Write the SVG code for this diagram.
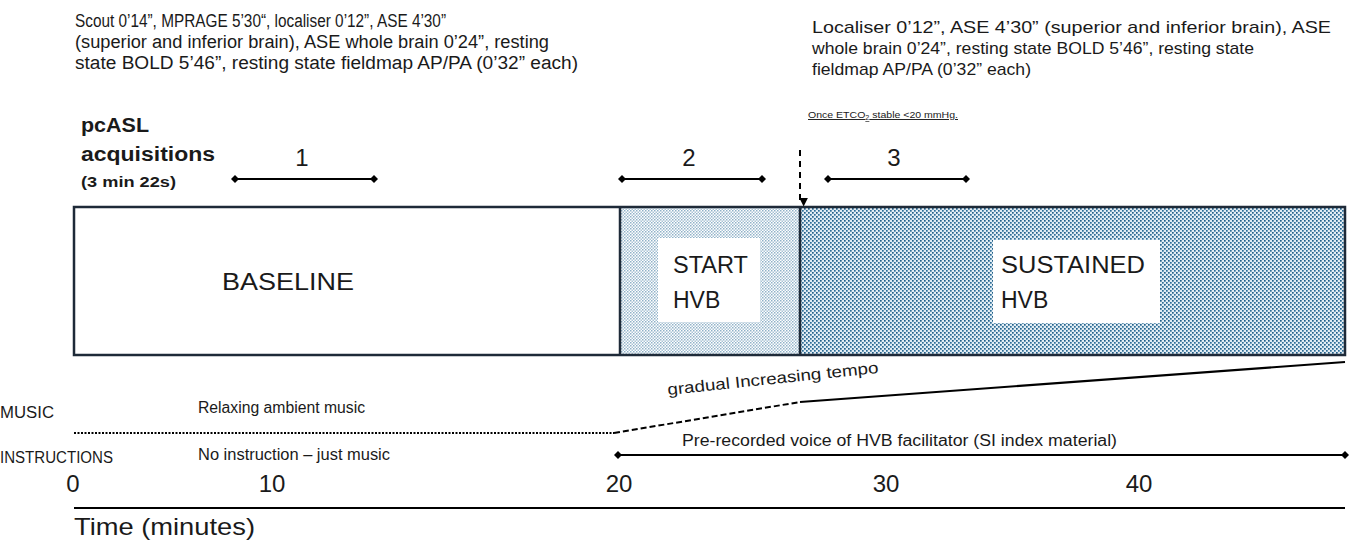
<svg xmlns="http://www.w3.org/2000/svg" width="1349" height="544" viewBox="0 0 1349 544">
  <defs>
    <pattern id="dotsLight" width="3" height="3" patternUnits="userSpaceOnUse">
      <rect width="3" height="3" fill="#ffffff"/>
      <rect x="0" y="0" width="1.5" height="1.5" fill="#8fb1c8"/>
      <rect x="1.5" y="1.5" width="1.5" height="1.5" fill="#a9c3d5"/>
    </pattern>
    <pattern id="dotsDense" width="4" height="4" patternUnits="userSpaceOnUse">
      <rect width="4" height="4" fill="#e2edf4"/>
      <rect x="0" y="0" width="1.7" height="1.7" fill="#22608a"/>
      <rect x="2" y="2" width="1.7" height="1.7" fill="#2e6e97"/>
    </pattern>
    <marker id="diamond" viewBox="0 0 10 10" refX="5" refY="5" markerWidth="8" markerHeight="8" markerUnits="userSpaceOnUse" orient="auto">
      <path d="M0,5 L5,0 L10,5 L5,10 Z" fill="#000"/>
    </marker>
    <marker id="arrowDown" viewBox="0 0 10 10" refX="5" refY="9" markerWidth="9" markerHeight="9" markerUnits="userSpaceOnUse" orient="auto-start-reverse">
      <path d="M0,0 L10,5 L0,10 Z" fill="#000"/>
    </marker>
  </defs>
  <style>
    text { font-family: "Liberation Sans", Arial, sans-serif; fill: #1a1a1a; }
    .note { font-size: 17px; }
    .noteL { font-size: 18px; }
    .big { font-size: 23px; }
    .num { font-size: 24px; }
    .lbl { font-size: 16px; }
    .range { stroke: #000; stroke-width: 2; marker-start: url(#diamond); marker-end: url(#diamond); }
    .frame { stroke: #1e2a38; stroke-width: 2.5; }
  </style>

  <rect width="1349" height="544" fill="#ffffff"/>

  <!-- sequence descriptions -->
  <g id="notes-baseline">
    <text class="noteL" x="75" y="27" textLength="371" lengthAdjust="spacingAndGlyphs">Scout 0’14”, MPRAGE 5’30“, localiser 0’12”, ASE 4’30”</text>
    <text class="noteL" x="75" y="48" textLength="474" lengthAdjust="spacingAndGlyphs">(superior and inferior brain), ASE whole brain 0’24”, resting</text>
    <text class="noteL" x="75" y="69" textLength="503" lengthAdjust="spacingAndGlyphs">state BOLD 5’46”, resting state fieldmap AP/PA  (0’32” each)</text>
  </g>
  <g id="notes-sustained">
    <text class="note" x="812" y="33" textLength="519" lengthAdjust="spacingAndGlyphs">Localiser 0’12”, ASE 4’30” (superior and inferior brain), ASE</text>
    <text class="note" x="812" y="54" textLength="442" lengthAdjust="spacingAndGlyphs">whole brain 0’24”, resting state BOLD 5’46”, resting state</text>
    <text class="note" x="812" y="75" textLength="219" lengthAdjust="spacingAndGlyphs">fieldmap AP/PA (0’32” each)</text>
  </g>

  <!-- pcASL acquisition windows -->
  <g id="pcasl-label">
    <text x="81" y="132" font-size="20" font-weight="bold" textLength="68" lengthAdjust="spacingAndGlyphs">pcASL</text>
    <text x="81" y="161" font-size="20" font-weight="bold" textLength="134" lengthAdjust="spacingAndGlyphs">acquisitions</text>
    <text x="81" y="187" font-size="14" font-weight="bold" textLength="95" lengthAdjust="spacingAndGlyphs">(3 min 22s)</text>
  </g>
  <g id="acq-1">
    <text class="num" x="302" y="166" text-anchor="middle">1</text>
  </g>
  <g id="acq-2">
    <text class="num" x="689" y="166" text-anchor="middle">2</text>
  </g>
  <g id="acq-3">
    <text class="num" x="894" y="166" text-anchor="middle">3</text>
  </g>
  <g id="etco2-note">
    <text x="808" y="118" font-size="9.5" text-decoration="underline" textLength="150" lengthAdjust="spacingAndGlyphs">Once ETCO<tspan font-size="6.5" dy="2">2</tspan><tspan dy="-2"> stable &lt;20 mmHg.</tspan></text>
  </g>

  <!-- phase blocks -->
  <g id="baseline">
    <rect x="74" y="207" width="546" height="148" fill="#ffffff"/>
    <text class="big" x="222" y="290" textLength="132" lengthAdjust="spacingAndGlyphs">BASELINE</text>
  </g>
  <g id="start-hvb">
    <rect x="620" y="207" width="180" height="148" fill="url(#dotsLight)"/>
    <rect x="658" y="238" width="102" height="84" fill="#ffffff"/>
    <text class="big" x="673" y="273" textLength="75" lengthAdjust="spacingAndGlyphs">START</text>
    <text class="big" x="673" y="308">HVB</text>
  </g>
  <g id="sustained-hvb">
    <rect x="800" y="207" width="545" height="148" fill="url(#dotsDense)"/>
    <rect x="993" y="240" width="167" height="83" fill="#ffffff"/>
    <text class="big" x="1001" y="273" textLength="144" lengthAdjust="spacingAndGlyphs">SUSTAINED</text>
    <text class="big" x="1001" y="308">HVB</text>
  </g>
  <g id="block-frame" fill="none">
    <rect class="frame" x="74" y="207" width="1271" height="148"/>
    <line class="frame" x1="620" y1="207" x2="620" y2="355"/>
    <line class="frame" x1="800" y1="207" x2="800" y2="355"/>
  </g>

  <!-- music and instruction tracks -->
  <g id="track-labels">
    <text class="lbl" x="0" y="418" textLength="54" lengthAdjust="spacingAndGlyphs">MUSIC</text>
    <text class="lbl" x="0" y="463" textLength="113" lengthAdjust="spacingAndGlyphs">INSTRUCTIONS</text>
    <text class="lbl" x="198" y="413" textLength="167" lengthAdjust="spacingAndGlyphs">Relaxing ambient music</text>
    <text class="lbl" x="198" y="460" textLength="192" lengthAdjust="spacingAndGlyphs">No instruction – just music</text>
    <text class="lbl" x="668" y="395" transform="rotate(-6 668 395)" textLength="212" lengthAdjust="spacingAndGlyphs">gradual  Increasing  tempo</text>
    <text class="lbl" x="682" y="446" textLength="435" lengthAdjust="spacingAndGlyphs">Pre-recorded  voice of HVB facilitator (SI index material)</text>
  </g>

  <!-- connectors -->
  <g id="connectors" fill="none">
    <line class="range" x1="235" y1="179" x2="374" y2="179"/>
    <line class="range" x1="622" y1="179" x2="762" y2="179"/>
    <line class="range" x1="828" y1="179" x2="966" y2="179"/>
    <line x1="800" y1="150" x2="800" y2="202" stroke="#000" stroke-width="2" stroke-dasharray="6,5" marker-end="url(#arrowDown)"/>
    <line x1="74" y1="433" x2="614" y2="433" stroke="#000" stroke-width="2" stroke-dasharray="2,1.5"/>
    <line x1="614" y1="433" x2="800" y2="402" stroke="#000" stroke-width="2" stroke-dasharray="6,3"/>
    <line x1="800" y1="402" x2="1345" y2="362" stroke="#000" stroke-width="2.2"/>
    <line class="range" x1="618" y1="455" x2="1345" y2="455"/>
  </g>

  <!-- time axis -->
  <g id="time-axis">
    <line x1="74" y1="508" x2="1345" y2="508" stroke="#000" stroke-width="2.2"/>
    <text class="num" x="73" y="492" text-anchor="middle">0</text>
    <text class="num" x="272" y="492" text-anchor="middle">10</text>
    <text class="num" x="619" y="492" text-anchor="middle">20</text>
    <text class="num" x="886" y="492" text-anchor="middle">30</text>
    <text class="num" x="1139" y="492" text-anchor="middle">40</text>
    <text x="74" y="535" font-size="24" textLength="181" lengthAdjust="spacingAndGlyphs">Time (minutes)</text>
  </g>
</svg>
